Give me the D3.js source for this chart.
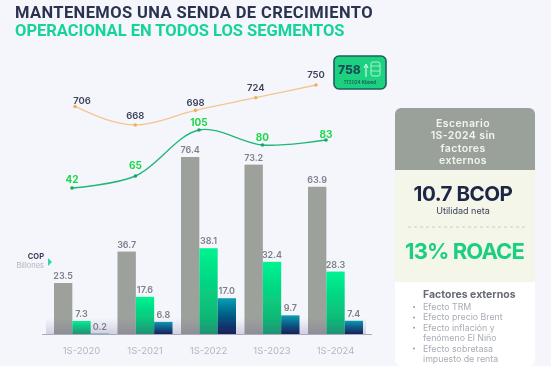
<!DOCTYPE html>
<html>
<head>
<meta charset="utf-8">
<script src="https://cdn.jsdelivr.net/npm/d3@7"></script>
<style>
body { margin:0; background:#f4f6fc; }
svg { display:block; font-family:Inter, sans-serif; }
</style>
</head>
<body>
<svg></svg>
<script>
var periods = ["1S-2020","1S-2021","1S-2022","1S-2023","1S-2024"];
var grayBars = [23.5,36.7,76.4,73.2,63.9];
var greenBars = [7.3,17.6,38.1,32.4,28.3];
var darkBars = [0.2,6.8,17.0,9.7,7.4];
var orangeLine = [706,668,698,724,750];
var greenLine = [42,65,105,80,83];
var sideFactors = ["Efecto TRM","Efecto precio Brent","Efecto inflación y","fenómeno El Niño","Efecto sobretasa","impuesto de renta"];
var headerLines = ["Escenario","1S-2024 sin","factores","externos"];

var screen = {width:551, height:366};

var svg = d3.select("svg")
    .attr("width", screen.width)
    .attr("height", screen.height);

var defs = svg.append("defs");

var addGradient = function(id, stops)
{
    var g = defs.append("linearGradient")
        .attr("id", id)
        .attr("x1", 0).attr("x2", 0).attr("y1", 0).attr("y2", 1);
    stops.forEach(function(s)
    {
        g.append("stop").attr("offset", s[0]).attr("stop-color", s[1]);
    });
}

addGradient("gradGreen", [[0,"#00f391"],[1,"#0ea86e"]]);
addGradient("gradDark", [[0,"#079db4"],[0.55,"#05537f"],[1,"#03144f"]]);
addGradient("gradHaze", [[0,"rgba(110,90,160,0)"],[1,"rgba(90,75,140,0.42)"]]);

// soft blur, the reference is a low resolution screenshot
defs.append("filter").attr("id", "soft")
    .append("feGaussianBlur").attr("stdDeviation", 0.35);

var root = svg.append("g").attr("filter", "url(#soft)");

// title
root.append("text").attr("x", 15).attr("y", 17.5)
    .attr("font-family", "Roboto").attr("font-weight", 700).attr("font-size", 16.5)
    .attr("letter-spacing", 0.4).attr("fill", "#2b3350")
    .text("MANTENEMOS UNA SENDA DE CRECIMIENTO");
root.append("text").attr("x", 15).attr("y", 35.5)
    .attr("font-family", "Roboto").attr("font-weight", 700).attr("font-size", 16.5)
    .attr("fill", "#17d39a")
    .text("OPERACIONAL EN TODOS LOS SEGMENTOS");

// bars. the picture is not drawn to one linear scale, so the scale has several segments
var yBar = d3.scaleLinear()
    .domain([0,7.3,23.5,76.4])
    .range([334,321,283,157]);

var xGroup = d3.scaleBand()
    .domain(periods)
    .range([54,363])
    .paddingInner(0.134)
    .paddingOuter(0);

var seriesKeys = ["gray","green","dark"];
var xBar = d3.scaleBand()
    .domain(seriesKeys)
    .range([0,xGroup.bandwidth()]);

var fills = {gray:"#9ca19b", green:"url(#gradGreen)", dark:"url(#gradDark)"};
var valuesBy = {gray:grayBars, green:greenBars, dark:darkBars};

var barRows = [];
seriesKeys.forEach(function(key)
{
    valuesBy[key].forEach(function(v, i)
    {
        barRows.push({key:key, period:periods[i], value:v});
    });
});

root.append("g").selectAll("rect")
    .data(barRows)
    .enter()
    .append("rect")
    .attr("x", function(d){return xGroup(d.period)+xBar(d.key)})
    .attr("y", function(d){return yBar(d.value)})
    .attr("width", xBar.bandwidth())
    .attr("height", function(d){return 334-yBar(d.value)})
    .attr("fill", function(d){return fills[d.key]});

// haze over the foot of the bars
root.append("rect")
    .attr("x", 46).attr("y", 318).attr("width", 320).attr("height", 16)
    .attr("fill", "url(#gradHaze)")
    .attr("opacity", 0.55);

root.append("g").selectAll("text")
    .data(barRows)
    .enter()
    .append("text")
    .attr("x", function(d){return xGroup(d.period)+xBar(d.key)+xBar.bandwidth()/2})
    .attr("y", function(d){return yBar(d.value)-4})
    .attr("text-anchor", "middle")
    .attr("font-size", 9)
    .attr("font-weight", 600)
    .attr("fill", "#7d8089")
    .text(function(d){return d.value.toFixed(1)});

var xAxis = d3.axisBottom(xGroup).tickSize(0).tickPadding(13);
var axisG = root.append("g")
    .attr("transform", "translate(0,334)")
    .call(xAxis);
axisG.select(".domain").attr("stroke", "#a9acb6").attr("d", "M42,0.5H372");
axisG.selectAll("text")
    .attr("font-family", "Inter").attr("font-size", 9.5).attr("fill", "#b3b6c1");

// unit label
root.append("text").attr("x", 44).attr("y", 258.5)
    .attr("text-anchor", "end").attr("font-size", 7.5).attr("font-weight", 700).attr("fill", "#34395c")
    .text("COP");
root.append("text").attr("x", 44).attr("y", 267.5)
    .attr("text-anchor", "end").attr("font-size", 7.5).attr("fill", "#b0b3bd")
    .text("Billones");
root.append("path").attr("d", "M48,258L52,262L48,266Z").attr("fill", "#2fd9a3");

// orange line
var xOrange = d3.scalePoint().domain(periods).range([75,316]);
var yOrange = d3.scaleLinear().domain([668,750]).range([125,85]);
var lineOrange = d3.line()
    .x(function(d, i){return xOrange(periods[i])})
    .y(function(d){return yOrange(d)})
    .curve(d3.curveMonotoneX);

root.append("path")
    .attr("d", lineOrange(orangeLine))
    .attr("fill", "none")
    .attr("stroke", "#f5c68c")
    .attr("stroke-width", 1.3);

root.append("g").selectAll("circle")
    .data(orangeLine)
    .enter()
    .append("circle")
    .attr("cx", function(d, i){return xOrange(periods[i])})
    .attr("cy", function(d){return yOrange(d)})
    .attr("r", 1.8)
    .attr("fill", "#eeb25f");

var orangeNudge = [-2,-6,-4.5,-7,-7.5];
root.append("g").selectAll("text")
    .data(orangeLine)
    .enter()
    .append("text")
    .attr("x", function(d, i){return xOrange(periods[i])+(i==0?7:0)})
    .attr("y", function(d, i){return yOrange(d)+orangeNudge[i]})
    .attr("text-anchor", "middle")
    .attr("font-size", 9.5)
    .attr("font-weight", 600)
    .attr("fill", "#3d4258")
    .text(function(d){return d});

// green line
var xGreen = d3.scalePoint().domain(periods).range([72,326]);
var yGreen = d3.scaleLinear().domain([42,65,80,83,105]).range([188,176,145,140,130]);
var lineGreen = d3.line()
    .x(function(d, i){return xGreen(periods[i])})
    .y(function(d){return yGreen(d)})
    .curve(d3.curveCatmullRom.alpha(0.5));

root.append("path")
    .attr("d", lineGreen(greenLine))
    .attr("fill", "none")
    .attr("stroke", "#22b777")
    .attr("stroke-width", 1.4);

root.append("g").selectAll("circle")
    .data(greenLine)
    .enter()
    .append("circle")
    .attr("cx", function(d, i){return xGreen(periods[i])})
    .attr("cy", function(d){return yGreen(d)})
    .attr("r", 1.8)
    .attr("fill", "#16a862");

var greenNudge = [-5,-7,-4.5,-4.5,-2.5];
root.append("g").selectAll("text")
    .data(greenLine)
    .enter()
    .append("text")
    .attr("x", function(d, i){return xGreen(periods[i])})
    .attr("y", function(d, i){return yGreen(d)+greenNudge[i]})
    .attr("text-anchor", "middle")
    .attr("font-size", 10)
    .attr("font-weight", 700)
    .attr("fill", "#1fd84a")
    .text(function(d){return d});

// 758 badge
var badge = root.append("g");
badge.append("rect").attr("x", 334).attr("y", 56).attr("width", 52).attr("height", 33).attr("rx", 5)
    .attr("fill", "#1fd281").attr("stroke", "#1d5f63").attr("stroke-width", 1.6);
badge.append("text").attr("x", 338).attr("y", 73.5)
    .attr("font-size", 12).attr("font-weight", 800).attr("fill", "#1a4a56").text("758");
badge.append("path").attr("d", "M366,77V66M364,68L366,64L368,68").attr("fill", "none").attr("stroke", "#e8fff2").attr("stroke-width", 1);
badge.append("rect").attr("x", 371).attr("y", 62).attr("width", 9).attr("height", 14).attr("rx", 2)
    .attr("fill", "none").attr("stroke", "#d3f7e1").attr("stroke-width", 0.8);
badge.append("path").attr("d", "M371,66H380M371,71H380").attr("stroke", "#d3f7e1").attr("stroke-width", 0.7);
badge.append("text").attr("x", 360).attr("y", 83.5).attr("text-anchor", "middle")
    .attr("font-size", 4.6).attr("font-weight", 600).attr("fill", "#1a5a55").text("1T2024 Kboed");

// side panel
var panel = root.append("g");
panel.append("rect").attr("x", 395).attr("y", 108).attr("width", 140).attr("height", 258).attr("fill", "#ffffff").attr("rx", 6);
panel.append("rect").attr("x", 395).attr("y", 165).attr("width", 140).attr("height", 117).attr("fill", "#f3f6e8");
panel.append("path").attr("d", "M395,170V114a6,6 0 0 1 6,-6H529a6,6 0 0 1 6,6V170Z").attr("fill", "#9aa19a");

panel.append("g").selectAll("text")
    .data(headerLines)
    .enter()
    .append("text")
    .attr("x", 463)
    .attr("y", function(d, i){return 127+i*12.4})
    .attr("text-anchor", "middle")
    .attr("font-size", 10.5)
    .attr("font-weight", 600)
    .attr("letter-spacing", 0.4)
    .attr("fill", "#f2f4ee")
    .text(function(d){return d});

panel.append("text").attr("x", 463).attr("y", 200.5).attr("text-anchor", "middle")
    .attr("font-size", 20.6).attr("font-weight", 700).attr("letter-spacing", -0.5).attr("fill", "#1f2547").text("10.7 BCOP");
panel.append("text").attr("x", 463).attr("y", 214).attr("text-anchor", "middle")
    .attr("font-size", 9).attr("fill", "#3a3f57").text("Utilidad neta");
panel.append("line").attr("x1", 408).attr("x2", 528).attr("y1", 227).attr("y2", 227)
    .attr("stroke", "#b9bcb2").attr("stroke-width", 0.7).attr("stroke-dasharray", "3 3");
panel.append("text").attr("x", 464.5).attr("y", 259).attr("text-anchor", "middle")
    .attr("font-size", 22).attr("font-weight", 700).attr("letter-spacing", -0.9).attr("fill", "#1fce80").text("13% ROACE");

panel.append("text").attr("x", 423).attr("y", 298)
    .attr("font-size", 10.5).attr("font-weight", 700).attr("fill", "#666a78").text("Factores externos");

panel.append("g").selectAll("text")
    .data(sideFactors)
    .enter()
    .append("text")
    .attr("x", 423)
    .attr("y", function(d, i){return 310+i*10.4})
    .attr("font-size", 8.8)
    .attr("fill", "#a9acb5")
    .text(function(d){return d});

// only the first line of each factor has a bullet
var bulletRows = [0,1,2,4];
panel.append("g").selectAll("circle")
    .data(bulletRows)
    .enter()
    .append("circle")
    .attr("cx", 414)
    .attr("cy", function(d){return 307+d*10.4})
    .attr("r", 1)
    .attr("fill", "#9a9da6");
</script>
</body>
</html>
